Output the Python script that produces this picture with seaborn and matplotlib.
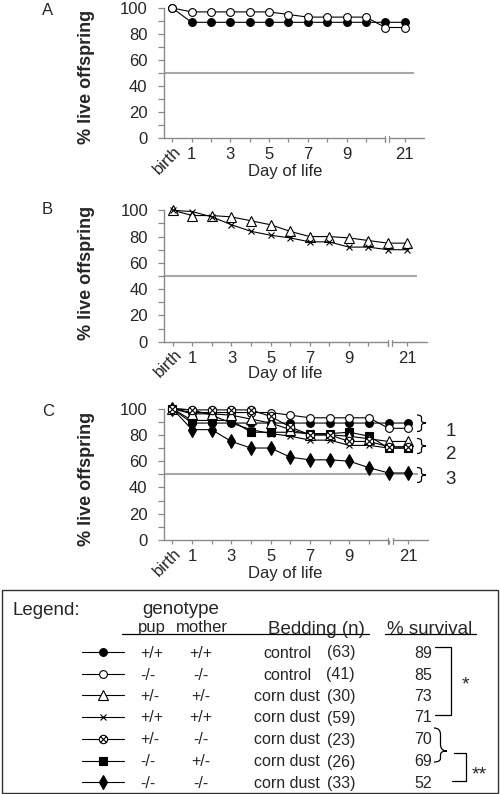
import numpy as np
import pandas as pd
import matplotlib
matplotlib.use("Agg")
import matplotlib.pyplot as plt
import matplotlib.patches as mp
from matplotlib.path import Path
import seaborn as sns

# ---------------- data ----------------
day_index = list(range(13))
tick_text = ['birth', '1', '', '3', '', '5', '', '7', '', '9', '', '', '21']

wt_control = [100, 89, 89, 89, 89, 89, 89, 89, 89, 89, 89, 89, 89]
ko_control = [100, 97, 97, 97, 97, 97, 95, 93, 93, 93, 93, 85, 85]
het_corn = [100, 96, 96, 95, 92, 89, 84, 80, 80, 79, 77, 75, 75]
wt_corn = [100, 99, 95, 89, 84, 81, 79, 76, 76, 72, 72, 70, 70]
hetpup_komother = [100, 99, 99, 99, 99, 94, 86, 80, 80, 75, 75, 71, 71]
kopup_hetmother = [100, 91, 91, 91, 82, 82, 82, 81, 81, 82, 79, 70, 70]
ko_corn = [100, 84, 84, 75, 70, 70, 63, 61, 61, 60, 55, 51, 51]

legend_pup = ['+/+', '-/-', '+/-', '+/+', '+/-', '-/-', '-/-']
legend_mother = ['+/+', '-/-', '+/-', '+/+', '-/-', '+/-', '-/-']
legend_bedding = ['control', 'control', 'corn dust', 'corn dust', 'corn dust', 'corn dust', 'corn dust']
legend_n = [63, 41, 30, 59, 23, 26, 33]
legend_survival = [89, 85, 73, 71, 70, 69, 52]

# ---------------- style ----------------
sns.set_style("white")
plt.rcParams['font.family'] = ['Liberation Sans', 'DejaVu Sans']

GRAY = '#8a8a8a'
REF = '#a8a8a8'

c = 0.7071
oplus = Path.make_compound_path(
    Path.unit_circle(),
    Path([(-c, -c), (c, c), (-c, c), (c, -c)],
         [Path.MOVETO, Path.LINETO, Path.MOVETO, Path.LINETO]))

styles = {
    'wt_control': dict(marker='o', markerfacecolor='black', markersize=5.6),
    'ko_control': dict(marker='o', markerfacecolor='white', markersize=5.6),
    'het_corn': dict(marker='^', markerfacecolor='white', markersize=7.2),
    'wt_corn': dict(marker='x', markerfacecolor='black', markersize=5),
    'hetpup_komother': dict(marker=oplus, markerfacecolor='white', markersize=6),
    'kopup_hetmother': dict(marker='s', markerfacecolor='black', markersize=5.2),
    'ko_corn': dict(marker='d', markerfacecolor='black', markersize=7.5),
}
series = {
    'wt_control': wt_control, 'ko_control': ko_control, 'het_corn': het_corn,
    'wt_corn': wt_corn, 'hetpup_komother': hetpup_komother,
    'kopup_hetmother': kopup_hetmother, 'ko_corn': ko_corn,
}
legend_order = list(series.keys())
draw_order_C = ['wt_control', 'ko_control', 'kopup_hetmother', 'wt_corn',
                'het_corn', 'ko_corn', 'hetpup_komother']

W, H = 500, 794
fig = plt.figure(figsize=(W / 100, H / 100), dpi=100)


def rect(l, r, t, b):
    return [l / W, 1 - b / H, (r - l) / W, (b - t) / H]


XL, XR = -0.45, 13.0
BR0, BR1 = 10.98, 11.2


def make_panel(box, names, ylab_y, xlab_x, xlab_y):
    l, r, t, b = box
    ax = fig.add_axes(rect(l, r, t, b))
    for k, nm in enumerate(names):
        df = pd.DataFrame({'day': day_index, 'pct': series[nm]})
        st = styles[nm]
        sns.lineplot(data=df, x='day', y='pct', ax=ax, color='black',
                     linewidth=0.8, markeredgecolor='black',
                     markeredgewidth=0.8, clip_on=False, zorder=3 + k * 0.01, **st)
    ax.hlines(50, XL, 12.5, color=REF, linewidth=1.5, zorder=2)
    ax.set_xlim(XL, XR)
    ax.set_ylim(0, 100)
    ax.set_yticks([0, 20, 40, 60, 80, 100])
    ax.set_yticks([10, 30, 50, 70, 90], minor=True)
    ax.set_xticks(day_index)
    ax.set_xticklabels([''] + tick_text[1:])
    ax.tick_params(axis='y', which='both', direction='out', length=4.5,
                   width=0.9, color=GRAY, pad=7, labelsize=12, left=True)
    ax.tick_params(axis='x', direction='out', length=3, width=0.9,
                   color=GRAY, pad=3.5, labelsize=12, bottom=True)
    for s in ['top', 'right', 'bottom']:
        ax.spines[s].set_visible(False)
    ax.spines['left'].set_color(GRAY)
    ax.spines['left'].set_linewidth(1.0)
    # broken x axis
    ax.plot([XL, BR0], [0, 0], color=GRAY, lw=1.0, clip_on=False, zorder=1)
    ax.plot([BR1, XR], [0, 0], color=GRAY, lw=1.0, clip_on=False, zorder=1)
    for bx in (BR0, BR1):
        ax.plot([bx, bx], [-3, 1.6], color=GRAY, lw=0.9, clip_on=False)
    ax.annotate(tick_text[0], xy=(0, 0), xycoords=('data', 'axes fraction'),
                xytext=(-3.6, -15.8), textcoords='offset points',
                rotation=45, ha='center', va='center', fontsize=12,
                rotation_mode='anchor')
    ax.set_xlabel('Day of life', fontsize=12, va='center')
    ax.xaxis.set_label_coords((xlab_x - l) / (r - l), (b - xlab_y) / (b - t))
    ax.set_ylabel('% live offspring', fontsize=13, fontweight='bold', va='center')
    ax.yaxis.set_label_coords((86.7 - l) / (r - l), (b - ylab_y) / (b - t))
    return ax


axA = make_panel((163.5, 424, 8, 138), ['wt_control', 'ko_control'], 77, 285.5, 171.5)
axB = make_panel((164, 427, 210.3, 341.7), ['het_corn', 'wt_corn'], 273, 285, 373.5)
axC = make_panel((163.5, 428, 408.6, 540), draw_order_C, 479, 285, 573.5)

# ---------------- overlay for annotations ----------------
ov = fig.add_axes([0, 0, 1, 1], zorder=10)
ov.set_xlim(0, W)
ov.set_ylim(H, 0)
ov.axis('off')
ov.patch.set_alpha(0)


def brace(x0, yt, ytip, yb, w, lw=0.9):
    xm = x0 + w / 2
    r1 = min(w / 2, (ytip - yt) / 3)
    r2 = min(w / 2, (yb - ytip) / 3)
    verts = [(x0, yt), (xm, yt), (xm, yt + r1),
             (xm, ytip - r1), (xm, ytip), (x0 + w, ytip),
             (xm, ytip), (xm, ytip + r2),
             (xm, yb - r2), (xm, yb), (x0, yb)]
    codes = [Path.MOVETO, Path.CURVE3, Path.CURVE3,
             Path.LINETO, Path.CURVE3, Path.CURVE3,
             Path.CURVE3, Path.CURVE3,
             Path.LINETO, Path.CURVE3, Path.CURVE3]
    ov.add_patch(mp.PathPatch(Path(verts, codes), fill=False, lw=lw, color='black'))


def txt(x, y, s, size=12, ha='left', **kw):
    ov.text(x, y + 1.5, s, fontsize=size, ha=ha, va='center', **kw)


# panel letters
txt(48, 9, 'A', 12, ha='center')
txt(47, 208, 'B', 12, ha='center')
txt(48, 410, 'C', 12, ha='center')

# groups on panel C
brace(417, 415, 423, 431.5, 9)
brace(417, 438.5, 446, 453.5, 9)
brace(417, 467.5, 475, 482.5, 9)
txt(451, 430, '1', 13.5, ha='center')
txt(451, 453, '2', 13.5, ha='center')
txt(451, 478, '3', 13.5, ha='center')

# ---------------- legend box ----------------
ov.add_patch(mp.Rectangle((1.5, 589.5), 496.5, 203.5, fill=False, lw=1.0, edgecolor='#333333'))
txt(12.5, 609, 'Legend:', 13.5)
txt(181, 608, 'genotype', 13.5, ha='center')
txt(138, 626, 'pup', 12)
txt(176, 626, 'mother', 12)
txt(268, 628.5, 'Bedding (n)', 13.5)
txt(387, 628.5, '% survival', 13.5)
ov.plot([122, 369], [633.5, 633.5], color='black', lw=0.9)
ov.plot([385, 476], [633.5, 633.5], color='black', lw=0.9)

row_y = [651.5, 673.5, 695, 716.5, 738.5, 760.5, 782]
for i, nm in enumerate(legend_order):
    y = row_y[i]
    ov.plot([82, 124], [y, y], color='black', lw=0.8)
    st = dict(styles[nm])
    ov.plot([103], [y], linestyle='none', markeredgecolor='black',
            markeredgewidth=0.8, color='black', **st)
    txt(140, y, legend_pup[i], 11.5)
    txt(201, y, legend_mother[i], 11.5, ha='center')
    txt(287, y, legend_bedding[i], 11.5, ha='center')
    txt(355, y, f'({legend_n[i]})', 11.5, ha='right')
    txt(432, y, str(legend_survival[i]), 11.5, ha='right')

# significance marks
ov.plot([435, 450.7, 450.7, 435], [647, 647, 715, 715], color='black', lw=0.9)
txt(465, 683, '*', 14, ha='center')
brace(434, 728, 751, 762, 13)
ov.plot([454, 466, 466, 452], [752.7, 752.7, 780.7, 780.7], color='black', lw=0.9)
txt(479, 773, '**', 14, ha='center')

fig.savefig('out.png', dpi=100)
